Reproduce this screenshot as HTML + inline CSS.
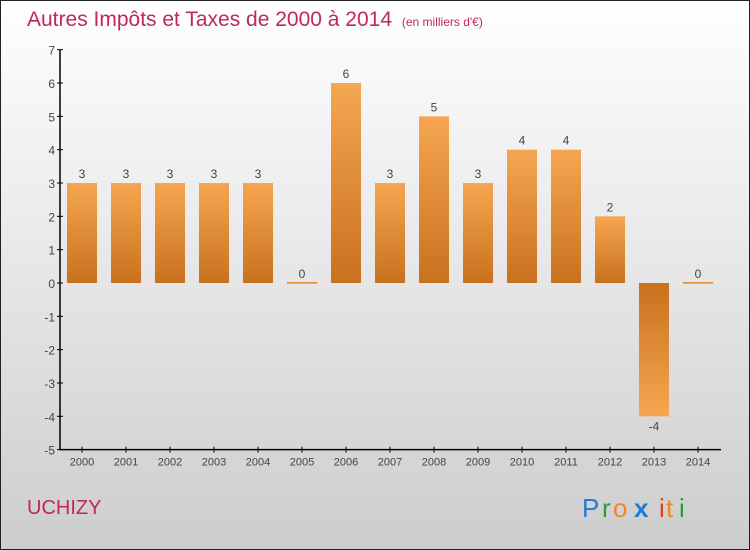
<!DOCTYPE html>
<html><head><meta charset="utf-8"><style>
body{margin:0}
svg{display:block;font-family:"Liberation Sans",sans-serif}
</style></head><body>
<svg width="750" height="550" viewBox="0 0 750 550">
<defs>
<linearGradient id="bg" x1="0" y1="0" x2="0" y2="1"><stop offset="0" stop-color="#ffffff"/><stop offset="1" stop-color="#cdcdcd"/></linearGradient>
<linearGradient id="gp" x1="0" y1="0" x2="0" y2="1"><stop offset="0" stop-color="#f6a651"/><stop offset="1" stop-color="#c8711f"/></linearGradient>
<linearGradient id="gn" x1="0" y1="0" x2="0" y2="1"><stop offset="0" stop-color="#c8711f"/><stop offset="1" stop-color="#f6a651"/></linearGradient>
</defs>
<rect x="0.5" y="0.5" width="749" height="549" fill="url(#bg)" stroke="#222"/>
<text x="27" y="26" font-size="21" fill="#c0285a">Autres Impôts et Taxes de 2000 à 2014 <tspan font-size="12" dx="4">(en milliers d'€)</tspan></text>
<g id="axes"></g>
<g id="bars"></g>
<text x="27" y="514" font-size="20" fill="#c0285a">UCHIZY</text>
<g font-size="26">
<text x="582" y="517" fill="#1e7bd6">P</text><text x="602" y="517" fill="#2a9a3a">r</text><text x="613" y="517" fill="#f5861f">o</text><text x="634" y="517" fill="#1e7bd6" font-weight="bold">x</text><text x="659" y="517" fill="#e8401c">i</text><text x="666" y="517" fill="#f5861f">t</text><text x="679" y="517" fill="#2a9a3a">i</text>
</g>
</svg>
<script>
const years=["2000","2001","2002","2003","2004","2005","2006","2007","2008","2009","2010","2011","2012","2013","2014"];
const values=[3,3,3,3,3,0,6,3,5,3,4,4,2,-4,0];
const yTicks=[-5,-4,-3,-2,-1,0,1,2,3,4,5,6,7];
const NS="http://www.w3.org/2000/svg";
const y=v=>283-(v)*33.33;
const x=i=>82+i*44;
function mk(t,a,p){const e=document.createElementNS(NS,t);for(const k in a)e.setAttribute(k,a[k]);p.appendChild(e);return e;}
const ax=document.getElementById('axes'),bg=document.getElementById('bars');
let l=mk('line',{x1:60,y1:y(7),x2:60,y2:y(-5),stroke:'#000','stroke-width':1.5},ax);


l=mk('line',{x1:60,y1:y(-5),x2:721,y2:y(-5),stroke:'#000','stroke-width':1.5},ax);


yTicks.forEach(v=>{
 mk('line',{x1:57,y1:y(v),x2:63,y2:y(v),stroke:'#000'},ax);
 const t=mk('text',{x:55,y:y(v)+5,'text-anchor':'end','font-size':12,fill:'#444'},ax);
 t.textContent=v;
 
 
});
years.forEach((yr,i)=>{
 mk('line',{x1:x(i),y1:y(-5)-3,x2:x(i),y2:y(-5)+3,stroke:'#000'},ax);
 const t=mk('text',{x:x(i),y:y(-5)+16,'text-anchor':'middle','font-size':11,fill:'#444'},ax);
 t.textContent=yr;
 
 
 const v=values[i];
 const top=Math.min(y(v),y(0)),h=Math.max(Math.abs(y(v)-y(0)),1.5);
 const r=mk('rect',{x:x(i)-15,y:v===0?y(0)-1:top,width:30,height:h,fill:v<0?'url(#gn)':'url(#gp)'},bg);
 
 
 const lt=mk('text',{x:x(i),y:v<0?y(v)+14:y(v)-5,'text-anchor':'middle','font-size':12,fill:'#444'},bg);
 lt.textContent=v;
 
 
});
</script>
</body></html>
